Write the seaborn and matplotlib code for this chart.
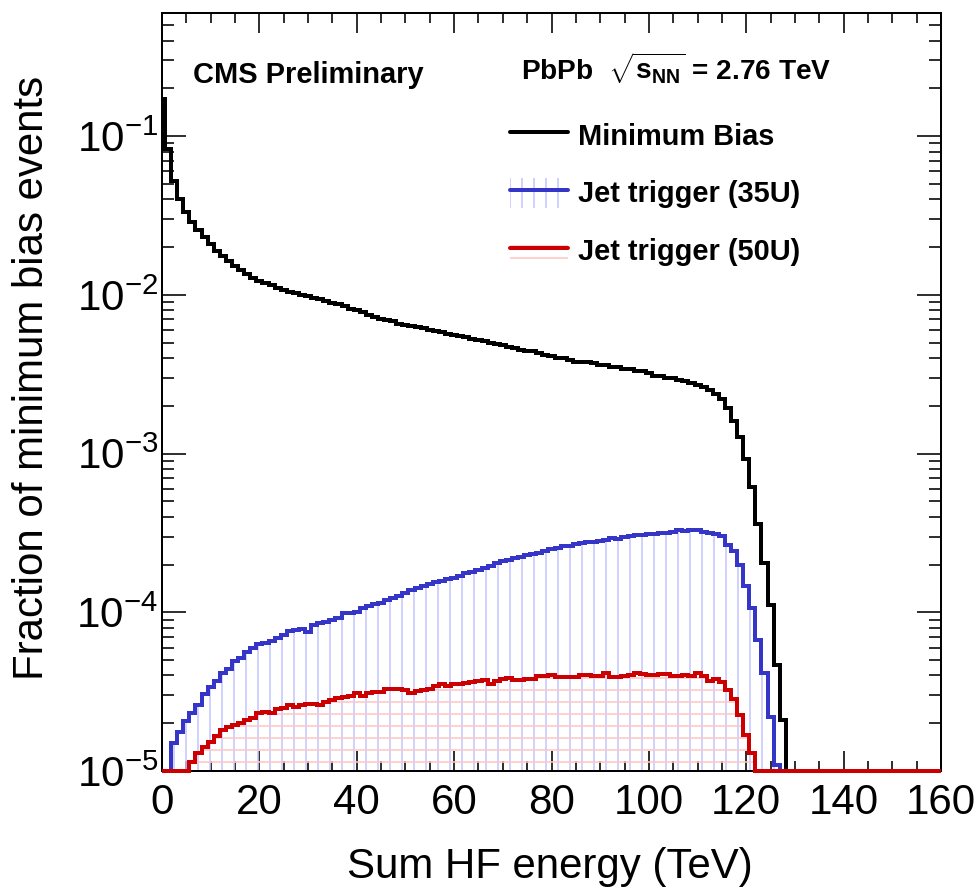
import numpy as np
import pandas as pd
import matplotlib
matplotlib.use("Agg")
import matplotlib.pyplot as plt
import seaborn as sns
from matplotlib.lines import Line2D
from matplotlib.patches import Patch
from matplotlib.legend_handler import HandlerTuple
from matplotlib.ticker import MultipleLocator, LogLocator, NullFormatter, FixedLocator, FixedFormatter
from matplotlib.transforms import Bbox, TransformedBbox

# ---------------- data (fraction of minimum-bias events per 1.25 TeV bin, bins centred at k*1.25) -------------
bin_width = 1.25
min_bias = [
    0.171, 0.0828, 0.0522, 0.0401, 0.0335, 0.0290, 0.0256, 0.0231, 0.0208, 0.0190,
    0.0176, 0.0163, 0.0152, 0.0143, 0.0135, 0.0128, 0.0123, 0.0119, 0.0115, 0.0111,
    0.0108, 0.0105, 0.0103, 0.0100, 0.0098, 0.0096, 0.0094, 0.0091, 0.0089, 0.0087,
    0.0085, 0.0082, 0.0080, 0.0078, 0.0075, 0.0073, 0.0071, 0.0069, 0.0068, 0.0066,
    0.0065, 0.0064, 0.0063, 0.0062, 0.0060, 0.0059, 0.0058, 0.0057, 0.0056, 0.0055,
    0.0054, 0.0053, 0.0052, 0.0051, 0.0050, 0.0049, 0.0048, 0.0047, 0.0046, 0.0045,
    0.0044, 0.0044, 0.0043, 0.0042, 0.0041, 0.0040, 0.0040, 0.0039, 0.0038, 0.0038,
    0.0038, 0.0037, 0.0036, 0.0036, 0.0035, 0.0035, 0.0034, 0.0034, 0.0033, 0.0033,
    0.0032, 0.0031, 0.0031, 0.0030, 0.0030, 0.0029, 0.00285, 0.00280, 0.00272, 0.00264,
    0.00252, 0.00238, 0.00220, 0.00195, 0.00160, 0.00128, 0.00092, 0.00062, 0.00036, 0.000204,
    0.000111, 0.0000466, 0.000021,
]
jet_35u = [
    0.0, 0.0, 1.5e-5, 1.77e-5, 2.08e-5, 2.31e-5, 2.61e-5, 3.06e-5, 3.4e-5, 3.71e-5,
    4.13e-5, 4.4e-5, 4.9e-5, 5.14e-5, 5.66e-5, 5.94e-5, 6.3e-5, 6.45e-5, 6.6e-5, 6.9e-5,
    7.2e-5, 7.6e-5, 7.7e-5, 7.9e-5, 7.55e-5, 8.3e-5, 8.55e-5, 8.75e-5, 8.97e-5, 9.2e-5,
    9.9e-5, 9.9e-5, 1.01e-4, 1.06e-4, 1.10e-4, 1.12e-4, 1.14e-4, 1.19e-4, 1.23e-4, 1.26e-4,
    1.32e-4, 1.38e-4, 1.42e-4, 1.46e-4, 1.50e-4, 1.55e-4, 1.58e-4, 1.62e-4, 1.65e-4, 1.70e-4,
    1.76e-4, 1.79e-4, 1.85e-4, 1.90e-4, 1.95e-4, 2.05e-4, 2.10e-4, 2.15e-4, 2.20e-4, 2.24e-4,
    2.28e-4, 2.32e-4, 2.38e-4, 2.43e-4, 2.50e-4, 2.55e-4, 2.60e-4, 2.63e-4, 2.68e-4, 2.73e-4,
    2.76e-4, 2.78e-4, 2.80e-4, 2.86e-4, 2.93e-4, 2.90e-4, 2.98e-4, 3.04e-4, 3.07e-4, 3.09e-4,
    3.11e-4, 3.12e-4, 3.14e-4, 3.16e-4, 3.20e-4, 3.30e-4, 3.25e-4, 3.30e-4, 3.28e-4, 3.22e-4,
    3.16e-4, 3.10e-4, 3.01e-4, 2.67e-4, 2.42e-4, 2.00e-4, 1.455e-4, 1.06e-4, 6.7e-5, 4.13e-5,
    2.2e-5, 1.09e-5,
]
jet_50u = [
    0.0, 0.0, 0.0, 0.0, 0.0, 1.14e-5, 1.29e-5, 1.42e-5, 1.53e-5, 1.65e-5,
    1.81e-5, 1.90e-5, 1.95e-5, 2.02e-5, 2.10e-5, 2.15e-5, 2.31e-5, 2.37e-5, 2.31e-5, 2.45e-5,
    2.48e-5, 2.61e-5, 2.54e-5, 2.60e-5, 2.65e-5, 2.65e-5, 2.61e-5, 2.74e-5, 2.80e-5, 2.90e-5,
    2.94e-5, 2.97e-5, 3.12e-5, 2.97e-5, 3.09e-5, 3.16e-5, 3.16e-5, 3.31e-5, 3.31e-5, 3.31e-5,
    3.24e-5, 3.12e-5, 3.20e-5, 3.25e-5, 3.30e-5, 3.45e-5, 3.55e-5, 3.45e-5, 3.52e-5, 3.55e-5,
    3.60e-5, 3.66e-5, 3.70e-5, 3.75e-5, 3.55e-5, 3.70e-5, 3.80e-5, 3.84e-5, 3.75e-5, 3.75e-5,
    3.80e-5, 3.80e-5, 3.95e-5, 3.98e-5, 4.03e-5, 3.90e-5, 3.90e-5, 3.90e-5, 3.90e-5, 4.03e-5,
    4.00e-5, 3.98e-5, 3.98e-5, 4.13e-5, 3.90e-5, 3.90e-5, 3.95e-5, 4.03e-5, 4.13e-5, 4.08e-5,
    4.03e-5, 4.03e-5, 4.08e-5, 4.08e-5, 3.94e-5, 3.94e-5, 4.03e-5, 3.94e-5, 4.13e-5, 3.94e-5,
    3.70e-5, 3.79e-5, 3.66e-5, 3.24e-5, 2.83e-5, 2.25e-5, 1.69e-5, 1.29e-5,
]
series_labels = ["Minimum Bias", "Jet trigger (35U)", "Jet trigger (50U)"]
x_ticks = [0, 20, 40, 60, 80, 100, 120, 140, 160]
y_ticks = [1e-5, 1e-4, 1e-3, 1e-2, 1e-1]
y_tick_labels = [r"$10^{-5}$", r"$10^{-4}$", r"$10^{-3}$", r"$10^{-2}$", r"$10^{-1}$"]
x_title = "Sum HF energy (TeV)"
y_title = "Fraction of minimum bias events"
x_range = (0, 160)
y_range = (1e-5, 0.6)

# ---------------- style ----------------
sns.set_style("ticks")
plt.rcParams["font.family"] = ["Liberation Sans", "DejaVu Sans"]
plt.rcParams["mathtext.fontset"] = "custom"
plt.rcParams["mathtext.rm"] = "Liberation Sans"
plt.rcParams["mathtext.it"] = "Liberation Sans:italic"
plt.rcParams["mathtext.bf"] = "Liberation Sans:bold"
plt.rcParams["mathtext.default"] = "regular"
plt.rcParams["hatch.linewidth"] = 1.6
for key in ["text.color", "axes.labelcolor", "xtick.color", "ytick.color",
            "xtick.labelcolor", "ytick.labelcolor", "axes.edgecolor"]:
    plt.rcParams[key] = "black"

DPI = 72
W, H = 977, 891
fig = plt.figure(figsize=(W / DPI, H / DPI), dpi=DPI)
fig.patch.set_facecolor("white")
L, R, T, B = 162, 941, 12.7, 771
ax = fig.add_axes([L / W, 1 - B / H, (R - L) / W, (B - T) / H])
ax.set_facecolor("white")

n_bins = int(round((x_range[1] - x_range[0]) / bin_width)) + 1
centers = np.arange(n_bins) * bin_width
edges = [float(e) for e in np.append(centers - bin_width / 2, centers[-1] + bin_width / 2)]

clip_bbox = TransformedBbox(Bbox([[0, -0.02], [1, 1]]), ax.transAxes)

blue_line, blue_hatch = "#3535c8", "#c8c8ff"
red_line, red_hatch = "#cc0000", "#ffc8c8"


def series_frame(values):
    v = np.zeros(n_bins)
    v[: len(values)] = values
    # empty bins are drawn on the lower frame edge, as ROOT does
    return pd.DataFrame({"energy": centers, "frac": np.maximum(v, y_range[0])})


def draw(values, color, hatch=None, hatch_color=None):
    df = series_frame(values)
    if hatch:
        n0 = len(ax.collections)
        sns.histplot(data=df, x="energy", weights="frac", bins=edges, element="step",
                     fill=True, ax=ax, color=hatch_color, facecolor="none",
                     edgecolor=hatch_color, linewidth=0, hatch=hatch)
        for c in ax.collections[n0:]:
            c.set_facecolor("none")
            c.set_edgecolor(hatch_color)
            c.set_linewidth(0)
            c.set_zorder(2)
    n0 = len(ax.lines)
    sns.histplot(data=df, x="energy", weights="frac", bins=edges, element="step",
                 fill=False, ax=ax, color=color, linewidth=4)
    for ln in ax.lines[n0:]:
        ln.set_clip_box(clip_bbox)
        ln.set_zorder(3)
        ln.set_solid_joinstyle("miter")


draw(min_bias, "black")
draw(jet_35u, blue_line, hatch="|", hatch_color=blue_hatch)
draw(jet_50u, red_line, hatch="-", hatch_color=red_hatch)

ax.set_yscale("log")
ax.set_xlim(*x_range)
ax.set_ylim(*y_range)
ax.set_xlabel("")
ax.set_ylabel("")

# ticks: ROOT style, inward on all four sides
ax.xaxis.set_major_locator(FixedLocator(x_ticks))
ax.xaxis.set_minor_locator(MultipleLocator(5))
ax.yaxis.set_major_locator(FixedLocator(y_ticks))
ax.yaxis.set_major_formatter(FixedFormatter(y_tick_labels))
ax.yaxis.set_minor_locator(LogLocator(base=10, subs=np.arange(2, 10)))
ax.yaxis.set_minor_formatter(NullFormatter())
ax.set_xticklabels([str(t) for t in x_ticks])
ax.tick_params(axis="both", which="both", direction="in", top=True, right=True,
               color="black", labelcolor="black", width=1.6)
ax.tick_params(axis="x", which="major", length=20, labelsize=42, pad=12)
ax.tick_params(axis="x", which="minor", length=10)
ax.tick_params(axis="y", which="major", length=24, labelsize=42, pad=4)
ax.tick_params(axis="y", which="minor", length=12)
for s in ax.spines.values():
    s.set_linewidth(2)
    s.set_color("black")
    s.set_zorder(2.5)

fig.text(550 / W, 1 - 878 / H, x_title, fontsize=42, ha="center", va="baseline",
         color="black")
fig.text(32 / W, 1 - 378 / H, y_title, fontsize=42, ha="center", va="center",
         rotation=90, color="black")

fig.text(193 / W, 1 - 83 / H, "CMS Preliminary", fontsize=29, fontweight="bold",
         ha="left", va="baseline", color="black")
fig.text(521 / W, 1 - 80 / H, r"PbPb  $\sqrt{\mathbf{s}_{\mathbf{NN}}}$ = 2.76 TeV",
         fontsize=28, fontweight="bold", ha="left", va="baseline", color="black")

h_mb = Line2D([], [], color="black", lw=4)
h_35 = (Patch(facecolor="none", edgecolor=blue_hatch, hatch="|", lw=0),
        Line2D([], [], color=blue_line, lw=4))
h_50 = (Patch(facecolor="none", edgecolor=red_hatch, hatch="-", lw=0),
        Line2D([], [], color=red_line, lw=4))
fs = 29
leg = ax.legend(handles=[h_mb, h_35, h_50], labels=series_labels,
                handler_map={tuple: HandlerTuple(ndivide=1, pad=0)},
                loc="upper left", bbox_to_anchor=(510 / W, 1 - 120 / H),
                bbox_transform=fig.transFigure, frameon=False,
                prop={"weight": "bold", "size": fs}, handlelength=58 / fs,
                handleheight=35 / fs, labelspacing=27 / fs, handletextpad=10 / fs,
                borderpad=0, borderaxespad=0)
for t in leg.get_texts():
    t.set_color("black")

fig.savefig("out.png", dpi=DPI, facecolor="white")
